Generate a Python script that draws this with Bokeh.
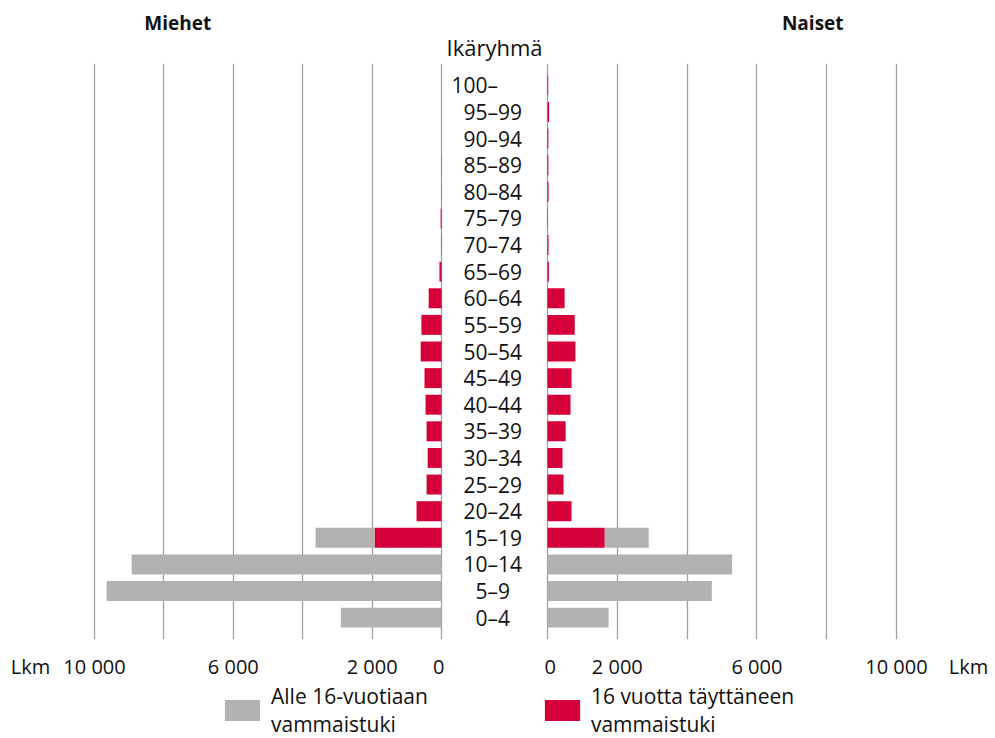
from bokeh.plotting import figure
from bokeh.layouts import row, column
from bokeh.models import Range1d, FixedTicker, Legend, LegendItem, ColumnDataSource
from bokeh.embed import file_html
from bokeh.resources import INLINE
from bokeh.core.properties import value

# ---------------- data ----------------
ages = ["0–4", "5–9", "10–14", "15–19", "20–24", "25–29", "30–34", "35–39",
        "40–44", "45–49", "50–54", "55–59", "60–64", "65–69", "70–74", "75–79",
        "80–84", "85–89", "90–94", "95–99", "100–"]
men_under16 = [2900, 9650, 8930, 1700, 0, 0, 0, 0, 0, 0, 0, 0, 0, 0, 0, 0, 0, 0, 0, 0, 0]
men_over16 = [0, 0, 0, 1930, 720, 430, 400, 430, 460, 490, 600, 580, 370, 60, 10, 25, 5, 5, 0, 0, 0]
women_under16 = [1750, 4710, 5290, 1260, 0, 0, 0, 0, 0, 0, 0, 0, 0, 0, 0, 0, 0, 0, 0, 0, 0]
women_over16 = [0, 0, 0, 1640, 690, 460, 430, 520, 660, 690, 800, 780, 490, 40, 30, 10, 30, 25, 25, 45, 20]
tick_values = [0, 2000, 6000, 10000]
tick_labels = ["0", "2 000", "6 000", "10 000"]
grid_values = [0, 2000, 4000, 6000, 8000, 10000]
series_labels = ["Alle 16-vuotiaan\nvammaistuki", "16 vuotta täyttäneen\nvammaistuki"]
panel_titles = ["Miehet", "Naiset"]
center_title = "Ikäryhmä"
unit_label = "Lkm"
unit_pos_left = 11844     # where the unit label sits on the men's axis
unit_pos_right = 12063    # where the unit label sits on the women's axis

GREY = "#b2b2b2"
RED = "#d5003a"
GRID = "#a0a0a0"
FONT = "Open Sans"
TXT = "#111111"

ys = list(range(len(ages)))
y_range = Range1d(-0.822, 20.822)

HEAD_H = 63
FRAME_H = 579
BOT = 40
H_MAIN = FRAME_H + BOT
W_LEFT, W_MID, W_RIGHT = 444, 100, 451

x_left = Range1d(12709, -86)
x_mid = Range1d(0, 1)
x_right = Range1d(-86, 12837)


def bare_fig(width, height, x_range, y_rng, **kw):
    p = figure(width=width, height=height, x_range=x_range, y_range=y_rng,
               toolbar_location=None, output_backend="svg", min_border=0,
               x_axis_location=None, y_axis_location=None, **kw)
    p.outline_line_color = None
    p.grid.visible = False
    return p


# ---- header row: panel titles ----
head_y = Range1d(0, 1)
h_left = bare_fig(W_LEFT, HEAD_H, x_left, head_y)
h_mid = bare_fig(W_MID, HEAD_H, x_mid, head_y)
h_right = bare_fig(W_RIGHT, HEAD_H, x_right, head_y)
for hp, title in zip([h_left, h_right], panel_titles):
    hp.text(x=[7600], y=[0.65], text=[title], text_align="center", text_baseline="middle",
            text_font=value(FONT), text_font_size="19px", text_font_style="bold",
            text_color=TXT)
h_mid.text(x=[0.5], y=[0.254], text=[center_title], text_align="center",
           text_baseline="middle", text_font=value(FONT), text_font_size="22px",
           text_color=TXT)


# ---- main row ----
def side_fig(width, x_range, unit_pos):
    p = figure(width=width, height=H_MAIN, x_range=x_range, y_range=y_range,
               toolbar_location=None, output_backend="svg",
               min_border_left=0, min_border_right=0,
               min_border_top=0, min_border_bottom=BOT,
               y_axis_location=None)
    p.outline_line_color = None
    p.background_fill_color = "white"
    p.border_fill_color = "white"
    p.ygrid.visible = False
    p.xgrid.ticker = FixedTicker(ticks=grid_values)
    p.xgrid.grid_line_color = GRID
    p.xgrid.grid_line_width = 1.3
    ax = p.xaxis[0]
    ax.ticker = FixedTicker(ticks=tick_values + [unit_pos])
    overrides = {v: l for v, l in zip(tick_values, tick_labels)}
    overrides[unit_pos] = unit_label
    ax.major_label_overrides = overrides
    ax.axis_line_color = None
    ax.major_tick_line_color = None
    ax.minor_tick_line_color = None
    ax.major_label_text_font = FONT
    ax.major_label_text_font_size = "20px"
    ax.major_label_text_color = TXT
    ax.major_label_standoff = 7
    return p


left = side_fig(W_LEFT, x_left, unit_pos_left)
right = side_fig(W_RIGHT, x_right, unit_pos_right)

src_m = ColumnDataSource(dict(y=ys, over=men_over16, under=men_under16))
src_w = ColumnDataSource(dict(y=ys, over=women_over16, under=women_under16))
left.hbar_stack(["over", "under"], y="y", height=0.75, color=[RED, GREY], line_width=0, source=src_m)
right.hbar_stack(["over", "under"], y="y", height=0.75, color=[RED, GREY], line_width=0, source=src_w)

# middle panel with age labels
LABEL_PX = 21
mid = figure(width=W_MID, height=H_MAIN, x_range=x_mid, y_range=y_range,
             toolbar_location=None, output_backend="svg",
             min_border_left=0, min_border_right=0, min_border_top=0, min_border_bottom=BOT,
             x_axis_location=None, y_axis_location=None)
mid.outline_line_color = None
mid.grid.visible = False
digit_w = 0.572 * LABEL_PX
offsets = [-7 - len(a.split("–")[0]) * digit_w for a in ages]
src_l = ColumnDataSource(dict(x=[0.5] * len(ages), y=ys, label=ages, off=offsets))
mid.text(x="x", y="y", text="label", x_offset="off", source=src_l, text_align="left",
         text_baseline="middle", text_font=value(FONT), text_font_size=f"{LABEL_PX}px",
         text_color=TXT)

# ---- legend strip ----
nan = float("nan")
leg = bare_fig(995, 738 - HEAD_H - H_MAIN, Range1d(0, 1), Range1d(0, 1))
r1 = leg.hbar(y=[nan], right=[nan], height=1, color=GREY, line_width=0)
r2 = leg.hbar(y=[nan], right=[nan], height=1, color=RED, line_width=0)
legend = Legend(items=[LegendItem(label=series_labels[0], renderers=[r1]),
                       LegendItem(label=series_labels[1], renderers=[r2])],
                orientation="horizontal", location=(220, 0), padding=0, margin=0,
                spacing=112, glyph_width=44, glyph_height=26, label_standoff=7,
                label_text_font=FONT, label_text_font_size="21px", label_text_color=TXT,
                label_text_line_height=1.12,
                border_line_color=None, background_fill_alpha=0)
leg.add_layout(legend)

layout = column(row(h_left, h_mid, h_right), row(left, mid, right), leg)
open("out.html", "w").write(file_html(layout, INLINE))
